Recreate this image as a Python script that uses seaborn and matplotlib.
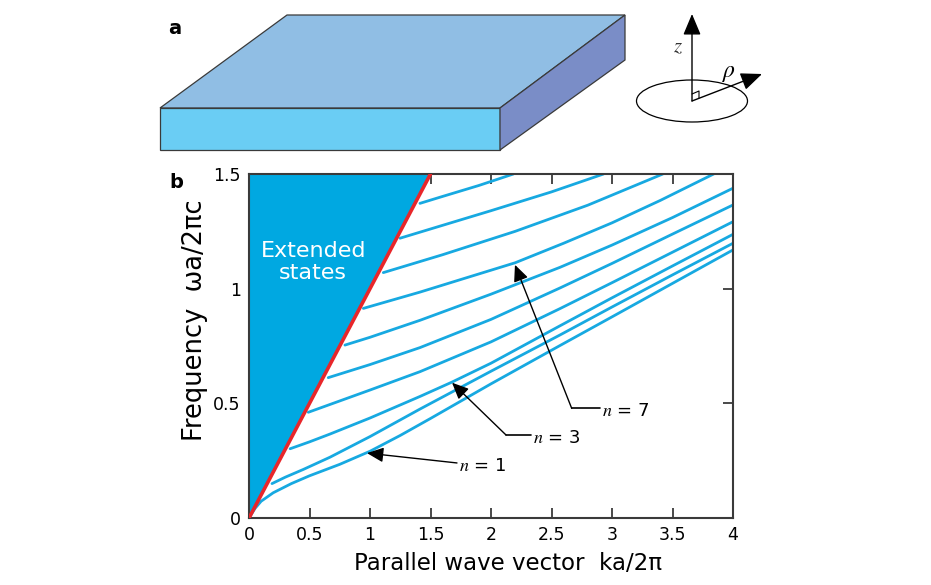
import pandas as pd
import matplotlib
matplotlib.use("Agg")
import matplotlib.pyplot as plt
from matplotlib.patches import Polygon, Ellipse
import seaborn as sns

# =========================================================
# DATA  k = ka/2pi, w = wa/2pic
# =========================================================
k1 = [0, 0.05, 0.1, 0.2, 0.35, 0.5, 0.75, 1.0, 1.25, 1.5, 2.0, 2.57, 3.0, 3.5, 4.0]
w1 = [0, 0.042, 0.073, 0.110, 0.150, 0.184, 0.234, 0.291, 0.360, 0.434, 0.585, 0.752, 0.877, 1.023, 1.169]

k2 = [0.19, 0.3, 0.45, 0.669, 1.0, 1.413, 2.0, 2.57, 3.0, 3.5, 4.0]
w2 = [0.150, 0.178, 0.212, 0.265, 0.355, 0.475, 0.640, 0.798, 0.920, 1.060, 1.198]

k3 = [0.34, 0.5, 0.669, 1.0, 1.413, 1.675, 2.0, 2.57, 3.0, 3.5, 4.0]
w3 = [0.302, 0.332, 0.366, 0.436, 0.530, 0.592, 0.675, 0.838, 0.960, 1.099, 1.237]

k4 = [0.49, 0.669, 1.0, 1.413, 2.0, 2.57, 3.0, 3.5, 4.0]
w4 = [0.461, 0.495, 0.558, 0.638, 0.768, 0.913, 1.026, 1.159, 1.292]

k5 = [0.655, 1.0, 1.413, 2.0, 2.57, 3.0, 3.5, 4.0]
w5 = [0.612, 0.669, 0.743, 0.866, 1.003, 1.110, 1.238, 1.365]

k6 = [0.793, 1.0, 1.413, 2.0, 2.57, 3.0, 3.5, 4.0]
w6 = [0.754, 0.788, 0.862, 0.976, 1.093, 1.190, 1.310, 1.438]

k7 = [0.945, 1.413, 1.8, 2.2, 2.6, 3.0, 3.4, 3.84]
w7 = [0.914, 0.985, 1.048, 1.113, 1.198, 1.287, 1.385, 1.500]

k8 = [1.11, 1.6, 2.2, 2.8, 3.42]
w8 = [1.070, 1.148, 1.250, 1.364, 1.500]

k9 = [1.248, 1.58, 2.0, 2.5, 2.93]
w9 = [1.220, 1.273, 1.340, 1.422, 1.500]

k10 = [1.413, 1.58, 1.9, 2.185]
w10 = [1.372, 1.399, 1.450, 1.500]

light_k = [0.0, 1.5]
light_w = [0.0, 1.5]

x_ticks = [0, 0.5, 1, 1.5, 2, 2.5, 3, 3.5, 4]
x_labels = ["0", "0.5", "1", "1.5", "2", "2.5", "3", "3.5", "4"]
y_ticks = [0, 0.5, 1, 1.5]
y_labels = ["0", "0.5", "1", "1.5"]

# mode labels: text, arrow tip, elbow, end of the short bar
mode_labels = ["$n$ = 1", "$n$ = 3", "$n$ = 7"]
label_tip = [(0.975, 0.283), (1.678, 0.590), (2.198, 1.104)]
label_elbow = [(1.719, 0.240), (2.124, 0.362), (2.667, 0.478)]
label_bar_end = [(1.719, 0.240), (2.331, 0.362), (2.901, 0.478)]

modes_k = [k1, k2, k3, k4, k5, k6, k7, k8, k9, k10]
modes_w = [w1, w2, w3, w4, w5, w6, w7, w8, w9, w10]
rows = []
for i, (kk, ww) in enumerate(zip(modes_k, modes_w)):
    for a, b in zip(kk, ww):
        rows.append((i + 1, a, b))
df = pd.DataFrame(rows, columns=["mode", "k", "w"])
light = pd.DataFrame({"k": light_k, "w": light_w})

# =========================================================
# STYLE
# =========================================================
sns.set_theme(style="ticks")
plt.rcParams["font.family"] = ["DejaVu Sans"]
plt.rcParams["mathtext.fontset"] = "stix"
plt.rcParams["text.color"] = "black"
plt.rcParams["axes.labelcolor"] = "black"

BLUE = "#17a9e1"
FILL = "#00a8e1"
RED = "#e8262a"
EDGE = "#3a3a3a"

fig = plt.figure(figsize=(9.31, 5.85), dpi=100)

# =========================================================
# PANEL A - slab sketch (figure pixel coordinates)
# =========================================================
sk = fig.add_axes([0, 0, 1, 1])
sk.set_xlim(0, 931)
sk.set_ylim(585, 0)
sk.axis("off")

sk.add_patch(Polygon([(160, 108), (287, 15), (625, 15), (500, 108)],
                     closed=True, fc="#90bee4", ec=EDGE, lw=0.9))
sk.add_patch(Polygon([(160, 108), (500, 108), (500, 150), (160, 150)],
                     closed=True, fc="#6acdf4", ec=EDGE, lw=0.9))
sk.add_patch(Polygon([(500, 108), (625, 15), (625, 60), (500, 150)],
                     closed=True, fc="#7a8dc7", ec=EDGE, lw=0.9))

sk.add_patch(Ellipse((692, 101), 111, 42, fc="none", ec="black", lw=0.9))
head = dict(arrowstyle="-|>,head_length=1.0,head_width=0.42",
            color="black", lw=1.0, mutation_scale=13, shrinkA=0, shrinkB=0)
sk.annotate("", xy=(692, 14), xytext=(692, 101), arrowprops=head)
sk.annotate("", xy=(762, 74), xytext=(692, 101), arrowprops=head)
sk.plot([692, 699, 699], [94, 91, 98], color="black", lw=0.8)
sk.text(678, 46, "$z$", fontsize=15, ha="center", va="center", color="#333333")
sk.text(729, 72, r"$\rho$", fontsize=17, ha="center", va="center")

sk.text(175, 28, "a", fontsize=14, weight="bold", ha="center", va="center")
sk.text(176, 183, "b", fontsize=14, weight="bold", ha="center", va="center")

# =========================================================
# PANEL B - dispersion of guided modes
# =========================================================
ax = fig.add_axes([249 / 931, 1 - 518 / 585, 484 / 931, 344 / 585])

ax.fill_betweenx(light_w, 0, light_k, color=FILL, lw=0, zorder=1)

sns.lineplot(data=df, x="k", y="w", units="mode", estimator=None, sort=False,
             color=BLUE, lw=2.0, ax=ax, zorder=2)
sns.lineplot(data=light, x="k", y="w", sort=False, color=RED, lw=2.6,
             ax=ax, zorder=3)

ax.text(0.53, 1.116, "Extended\nstates", color="white", fontsize=16,
        ha="center", va="center", linespacing=1.15, zorder=4)

arrow = dict(arrowstyle="-|>,head_length=1.0,head_width=0.45",
             color="black", lw=1.0, mutation_scale=10, shrinkA=0, shrinkB=0)
for txt, tip, elbow, bar in zip(mode_labels, label_tip, label_elbow, label_bar_end):
    ax.annotate("", xy=tip, xytext=elbow, arrowprops=arrow, zorder=5)
    ax.plot([elbow[0], bar[0]], [elbow[1], bar[1]], color="black", lw=1.2, zorder=5)
    ax.text(bar[0] + 0.02, bar[1] - 0.012, txt, fontsize=13, ha="left",
            va="center", zorder=5)

ax.set_xlim(0, 4)
ax.set_ylim(0, 1.5)
ax.set_xticks(x_ticks)
ax.set_xticklabels(x_labels)
ax.set_yticks(y_ticks)
ax.set_yticklabels(y_labels)
ax.tick_params(direction="in", length=7, width=1.3, top=True, right=True,
               labelsize=12.5, color=EDGE, labelcolor="black", pad=6)
for s in ax.spines.values():
    s.set_color(EDGE)
    s.set_linewidth(1.5)

ax.set_xlabel("Parallel wave vector  ka/2\u03c0", fontsize=16.5)
ax.set_ylabel("Frequency  \u03c9a/2\u03c0c", fontsize=18.5)
ax.xaxis.set_label_coords(0.535, -0.1)
ax.yaxis.set_label_coords(-0.085, 0.576)

plt.savefig("out.png", dpi=100)
